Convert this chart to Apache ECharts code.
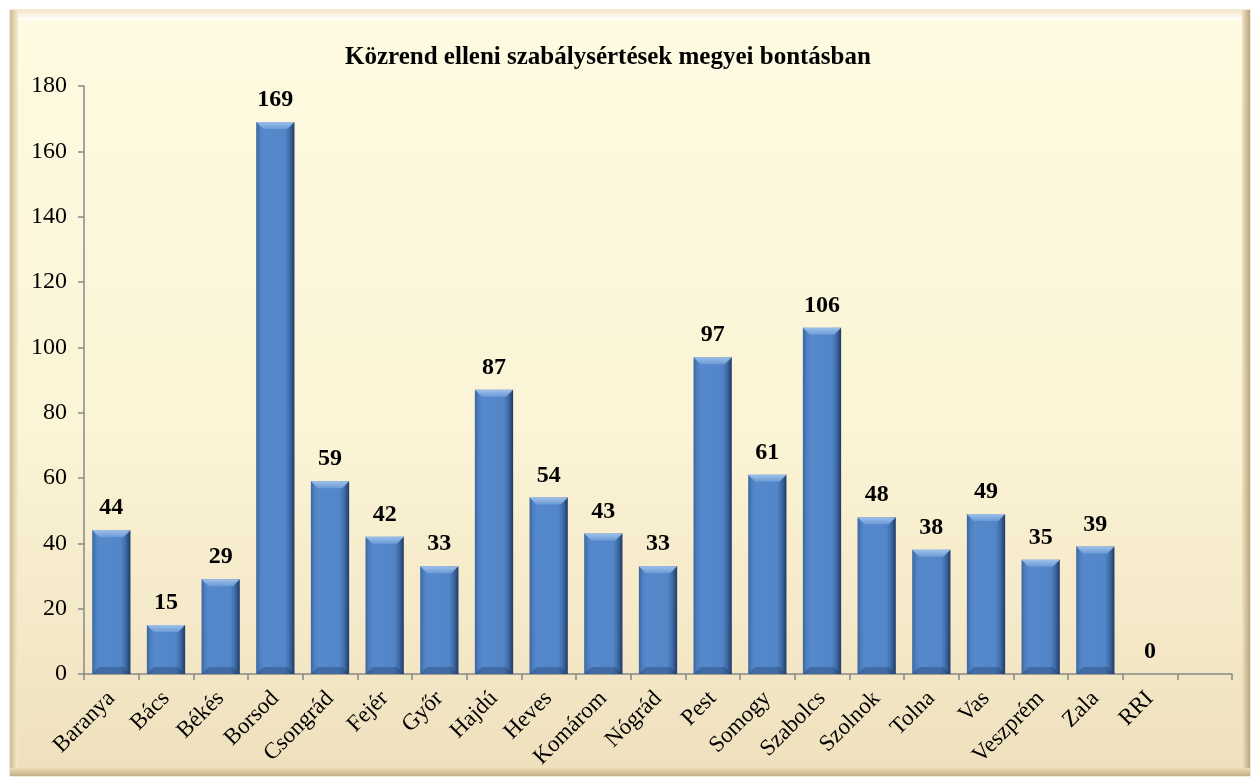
<!DOCTYPE html>
<html lang="hu">
<head>
    <meta charset="UTF-8">
    <script src="https://cdn.jsdelivr.net/npm/echarts@6.0.0/dist/echarts.min.js"></script>
    <title>Közrend elleni szabálysértések</title>
    <style>
        html, body { margin: 0; padding: 0; background: #fff; }
        #tu { width: 1253px; height: 780px; }
    </style>
</head>
<body>
<div id="tu"></div>
<script type="text/javascript">
    // megyék (az utolsó üres kategória a tengely végén)
    var megyek = ['Baranya', 'Bács', 'Békés', 'Borsod', 'Csongrád', 'Fejér', 'Győr', 'Hajdú', 'Heves', 'Komárom',
        'Nógrád', 'Pest', 'Somogy', 'Szabolcs', 'Szolnok', 'Tolna', 'Vas', 'Veszprém', 'Zala', 'RRI', ''];
    var esetek = [44, 15, 29, 169, 59, 42, 33, 87, 54, 43, 33, 97, 61, 106, 48, 38, 49, 35, 39, 0, null];
    var yTicks = [0, 20, 40, 60, 80, 100, 120, 140, 160, 180];

    var serif = '"Liberation Serif", "Times New Roman", serif';
    var thisChart = echarts.init(document.getElementById('tu'));

    // világos ferde perem az oszlopok tetején
    function bevelTop(params, api) {
        var v = api.value(1);
        if (v == null || v <= 0) return null;
        var top = api.coord([api.value(0), v]);
        var base = api.coord([api.value(0), 0]);
        var w = api.size([1, 0])[0] * 0.7;
        var x0 = top[0] - w / 2, x1 = top[0] + w / 2, y = top[1];
        var b = Math.min(7, (base[1] - y) / 2);
        return {
            type: 'group',
            children: [{
                type: 'polygon',
                shape: { points: [[x0, y], [x1, y], [x1 - b, y + b], [x0 + b, y + b]] },
                style: { fill: new echarts.graphic.LinearGradient(0, 0, 0, 1, [
                    { offset: 0, color: '#9fc0ea' }, { offset: 1, color: '#6a9ad6' }]) }
            }, {
                type: 'polygon',
                shape: { points: [[x0, base[1]], [x1, base[1]], [x1 - b, base[1] - b], [x0 + b, base[1] - b]] },
                style: { fill: 'rgba(30,55,95,0.35)' }
            }]
        };
    }

    var option = {
        animation: false,
        graphic: [
            { type: 'rect', z: -10, shape: { x: 10, y: 10, width: 1240, height: 766 },
              style: { fill: new echarts.graphic.LinearGradient(0, 0, 0, 1, [
                  { offset: 0, color: '#fefbe2' }, { offset: 0.55, color: '#fbf4d6' }, { offset: 1, color: '#efe0bd' }]),
                  stroke: '#e6d6b0', lineWidth: 1 } },
            // bevel edges
            { type: 'rect', z: -9, shape: { x: 10, y: 10, width: 1240, height: 10 },
              style: { fill: new echarts.graphic.LinearGradient(0, 0, 0, 1, [
                  { offset: 0, color: '#f3e6c8' }, { offset: 1, color: '#ffffff' }]) } },
            { type: 'rect', z: -9, shape: { x: 10, y: 10, width: 8, height: 766 },
              style: { fill: new echarts.graphic.LinearGradient(0, 0, 1, 0, [
                  { offset: 0, color: '#cdbb92' }, { offset: 1, color: '#f5ebcf' }]) } },
            { type: 'rect', z: -9, shape: { x: 1242, y: 10, width: 8, height: 766 },
              style: { fill: new echarts.graphic.LinearGradient(0, 0, 1, 0, [
                  { offset: 0, color: '#f0e3c2' }, { offset: 1, color: '#b8a57e' }]) } },
            { type: 'rect', z: -9, shape: { x: 10, y: 768, width: 1240, height: 8 },
              style: { fill: new echarts.graphic.LinearGradient(0, 0, 0, 1, [
                  { offset: 0, color: '#eadbb6' }, { offset: 1, color: '#c2ae85' }]) } }
        ],
        title: {
            text: 'Közrend elleni szabálysértések megyei bontásban',
            left: 340,
            top: 40,
            textStyle: { fontFamily: serif, fontSize: 25, fontWeight: 'bold', color: '#000' }
        },
        grid: { left: 84, right: 21, top: 86, bottom: 106 },
        xAxis: {
            type: 'category',
            data: megyek,
            axisLine: { lineStyle: { color: '#888888', width: 1.5 } },
            axisTick: { show: true, length: 6, lineStyle: { color: '#888888', width: 1.5 } },
            axisLabel: { interval: 0, rotate: 45, margin: 21, fontFamily: serif, fontSize: 23, color: '#000' }
        },
        yAxis: {
            type: 'value',
            min: yTicks[0],
            max: yTicks[yTicks.length - 1],
            interval: 20,
            axisLine: { show: true, lineStyle: { color: '#888888', width: 1.5 } },
            axisTick: { show: true, length: 6, lineStyle: { color: '#888888', width: 1.5 } },
            splitLine: { show: false },
            axisLabel: { margin: 17, fontFamily: serif, fontSize: 24, color: '#000' }
        },
        series: [{
            type: 'bar',
            data: esetek,
            barWidth: '70%',
            itemStyle: {
                color: new echarts.graphic.LinearGradient(0, 0, 1, 0, [
                    { offset: 0, color: '#3a66a0' },
                    { offset: 0.1, color: '#4f80c2' },
                    { offset: 0.2, color: '#5589cc' },
                    { offset: 0.75, color: '#5286c8' },
                    { offset: 0.88, color: '#3f6aa6' },
                    { offset: 1, color: '#1f3a63' }
                ]),
                borderWidth: 0
            },
            label: {
                show: true,
                position: 'top',
                distance: 10,
                fontFamily: serif,
                fontSize: 24,
                fontWeight: 'bold',
                color: '#000'
            }
        }, {
            type: 'custom',
            renderItem: bevelTop,
            data: esetek.map(function (v, i) { return [i, v]; }),
            z: 3,
            silent: true
        }]
    };
    thisChart.setOption(option);
</script>
</body>
</html>
